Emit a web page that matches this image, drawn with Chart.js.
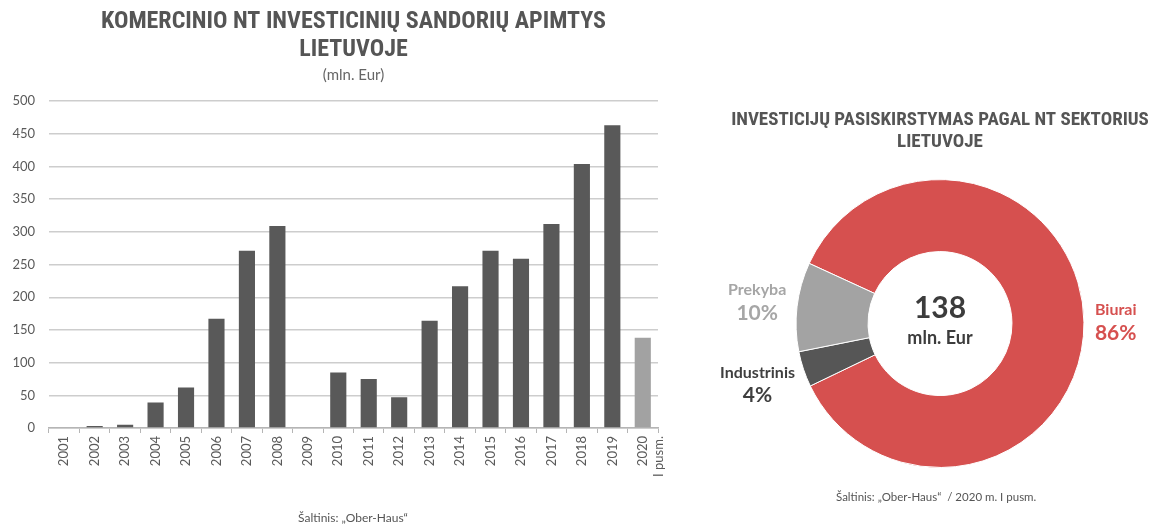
<!DOCTYPE html>
<html>
<head>
<meta charset="utf-8">
<script src="https://cdn.jsdelivr.net/npm/chart.js"></script>
<style>
  body { margin:0; width:1158px; height:526px; overflow:hidden; background:#fff; }
  .box { position:absolute; }
  .src { position:absolute; color:#555; font-family: Lato, sans-serif; text-align:center; white-space:nowrap; }
</style>
</head>
<body>
<div class="box" style="left:0;top:0;width:680px;height:526px"><canvas id="barChart"></canvas></div>
<div class="box" style="left:716px;top:0;width:448px;height:526px"><canvas id="pieChart"></canvas></div>
<div class="src" style="left:253px;top:510px;width:200px;font-size:12px">Šaltinis: „Ober-Haus“</div>
<div class="src" style="left:836px;top:490px;width:200px;font-size:11.5px">Šaltinis: „Ober-Haus“ &nbsp;/ 2020 m. I pusm.</div>
<script>
// duomenys
const metai = ['2001','2002','2003','2004','2005','2006','2007','2008','2009','2010',
  '2011','2012','2013','2014','2015','2016','2017','2018','2019',['2020','I pusm.']]
const apimtys = [1, 3, 5, 39, 62, 167, 271, 309, 0, 85, 75, 47, 164, 217, 271, 259, 312, 404, 463, 138]

const sektoriai = ['Biurai', 'Industrinis', 'Prekyba']
const dalys = [86, 4, 10]
const visoSuma = 138
const visoVienetai = 'mln. Eur'

const titleFont = "'Liberation Sans Narrow', 'Roboto Condensed', Lato, sans-serif"
const bodyFont = "Lato, 'Open Sans', sans-serif"

// stulpelinė diagrama
const spalvos = apimtys.map((v, i) => i == apimtys.length - 1 ? '#a2a2a2' : '#595959')

const ctx1 = document.getElementById('barChart')
new Chart(ctx1, {
  type: 'bar',
  data: {
    labels: metai,
    datasets: [{
      data: apimtys,
      backgroundColor: spalvos,
      barPercentage: 0.53,
      categoryPercentage: 1
    }]
  },
  options: {
    responsive: true,
    maintainAspectRatio: false,
    animation: false,
    layout: { padding: { left: 0, right: 22, top: 0, bottom: 0 } },
    plugins: {
      legend: { display: false },
      tooltip: { enabled: false },
      title: {
        display: true,
        fullSize: false,
        text: ['KOMERCINIO NT INVESTICINIŲ SANDORIŲ APIMTYS', 'LIETUVOJE'],
        color: '#555',
        font: { family: titleFont, size: 24, weight: 'bold', lineHeight: 1.17 },
        padding: { top: 8, bottom: 0 }
      },
      subtitle: {
        display: true,
        fullSize: false,
        text: '(mln. Eur)',
        color: '#666',
        font: { family: bodyFont, size: 15, lineHeight: 1.2 },
        padding: { top: 2, bottom: 17 }
      }
    },
    scales: {
      x: {
        grid: { drawOnChartArea: false, drawTicks: true, tickLength: 5, color: '#b5b5b5' },
        border: { color: '#b5b5b5', width: 1.5 },
        ticks: {
          autoSkip: false, maxRotation: 90, minRotation: 90, padding: 3,
          color: '#5a5a5a', font: { family: bodyFont, size: 13 }
        },
        afterFit: function(scale) { scale.height = 98 }
      },
      y: {
        min: 0, max: 500,
        grid: { drawTicks: false, color: '#cdcdcd', lineWidth: 1.5 },
        border: { display: false },
        ticks: {
          stepSize: 50, padding: 14,
          color: '#5a5a5a', font: { family: bodyFont, size: 13 }
        },
        afterFit: function(scale) { scale.width = 49 }
      }
    }
  }
})

// žiedinė diagrama - tekstai
const ziedoTekstai = {
  id: 'ziedoTekstai',
  afterDraw(chart) {
    const c = chart.ctx
    const meta = chart.getDatasetMeta(0)
    const arc0 = meta.data[0]
    const cx = arc0.x, cy = arc0.y
    const R = arc0.outerRadius
    c.save()
    c.textAlign = 'center'
    c.textBaseline = 'middle'
    // centras
    c.fillStyle = '#3c3c3c'
    c.font = 'bold 30px ' + bodyFont
    c.fillText(String(visoSuma), cx, cy - 15)
    c.font = 'bold 18px ' + bodyFont
    c.fillText(visoVienetai, cx, cy + 15)
    // etiketės
    const spalvosTxt = ['#d6504f', '#3f3f3f', '#a6a6a6']
    meta.data.forEach((arc, i) => {
      const a = (arc.startAngle + arc.endAngle) / 2
      c.font = 'bold 16px ' + bodyFont
      const w = c.measureText(sektoriai[i]).width
      const d = R + 11 + w / 2
      const x = cx + Math.cos(a) * d
      const y = cy + Math.sin(a) * d
      c.fillStyle = spalvosTxt[i]
      c.fillText(sektoriai[i], x, y - 12)
      c.font = 'bold 21px ' + bodyFont
      c.fillText(dalys[i] + '%', x, y + 11)
    })
    c.restore()
  }
}

const ctx2 = document.getElementById('pieChart')
new Chart(ctx2, {
  type: 'doughnut',
  data: {
    labels: sektoriai,
    datasets: [{
      data: dalys,
      backgroundColor: ['#d6504f', '#565656', '#a3a3a3'],
      borderColor: '#ffffff',
      borderWidth: 1
    }]
  },
  options: {
    responsive: true,
    maintainAspectRatio: false,
    animation: false,
    rotation: -65.3,
    cutout: '50%',
    layout: { padding: { top: 0, bottom: 58, left: 0, right: 0 } },
    plugins: {
      legend: { display: false },
      tooltip: { enabled: false },
      title: {
        display: true,
        text: ['INVESTICIJŲ PASISKIRSTYMAS PAGAL NT SEKTORIUS', 'LIETUVOJE'],
        color: '#555',
        font: { family: titleFont, size: 19, weight: 'bold', lineHeight: 1.16 },
        padding: { top: 109, bottom: 26 }
      }
    }
  },
  plugins: [ziedoTekstai]
})
</script>
</body>
</html>
